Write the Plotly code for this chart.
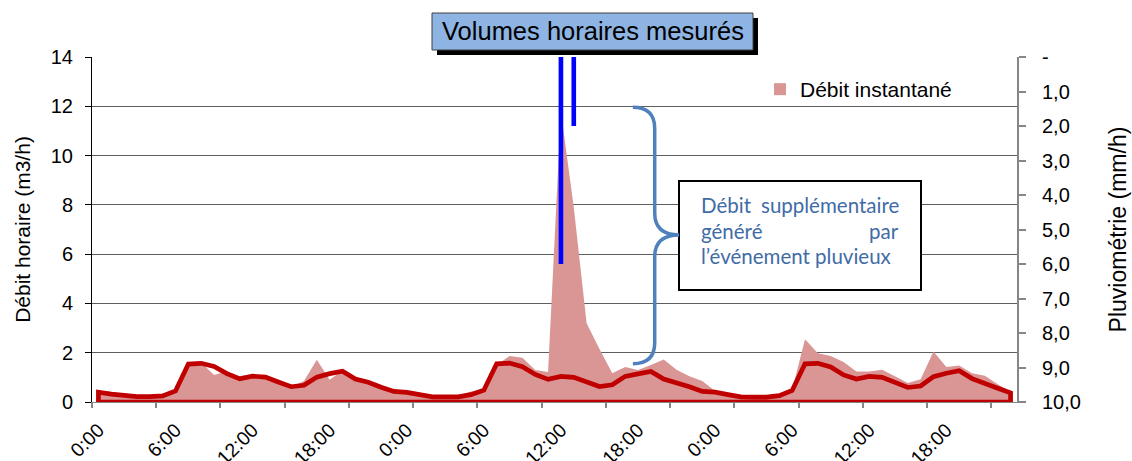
import plotly.graph_objects as go

# ---------------- data ----------------
hours = list(range(72))
tick_hours = [0, 6, 12, 18, 24, 30, 36, 42, 48, 54, 60, 66]
tick_labels = ["0:00", "6:00", "12:00", "18:00"] * 3
minor_tick_hours = [-0.5 + 5 * k for k in range(15)]

volumes_horaires = [
    0.40, 0.32, 0.25, 0.22, 0.22, 0.25, 0.45, 1.54, 1.57, 1.44, 1.15, 0.94,
    1.05, 1.01, 0.81, 0.62, 0.68, 1.01, 1.15, 1.25, 0.93, 0.80, 0.60, 0.43,
    0.39, 0.29, 0.21, 0.21, 0.21, 0.30, 0.48, 1.55, 1.58, 1.43, 1.12, 0.92,
    1.04, 1.00, 0.79, 0.63, 0.70, 1.04, 1.14, 1.24, 0.93, 0.79, 0.62, 0.43,
    0.40, 0.30, 0.21, 0.20, 0.20, 0.26, 0.47, 1.55, 1.57, 1.42, 1.10, 0.93,
    1.04, 1.00, 0.78, 0.59, 0.65, 1.03, 1.17, 1.27, 0.95, 0.78, 0.56, 0.37,
]

debit_instantane = [
    0.35, 0.28, 0.20, 0.18, 0.20, 0.25, 0.40, 1.45, 1.60, 1.10, 1.25, 1.05,
    1.13, 1.05, 0.85, 0.62, 0.85, 1.71, 0.90, 1.28, 1.00, 0.85, 0.68, 0.45,
    0.38, 0.30, 0.22, 0.20, 0.25, 0.43, 0.52, 1.50, 1.87, 1.80, 1.30, 1.22,
    11.80, 7.90, 3.20, 2.15, 1.17, 1.42, 1.30, 1.50, 1.72, 1.31, 1.05, 0.85,
    0.45, 0.32, 0.22, 0.20, 0.22, 0.32, 0.50, 2.55, 1.98, 1.87, 1.62, 1.24,
    1.24, 1.31, 1.05, 0.77, 0.92, 2.05, 1.42, 1.48, 1.17, 1.07, 0.72, 0.43,
]

pluie_heures = [36, 37]
pluie_mm = [6.0, 2.0]

left_ticks = [0, 2, 4, 6, 8, 10, 12, 14]
right_ticks = [0, 1, 2, 3, 4, 5, 6, 7, 8, 9, 10]
right_labels = ["-", "1,0", "2,0", "3,0", "4,0", "5,0", "6,0", "7,0", "8,0", "9,0", "10,0"]

# ---------------- style ----------------
FONT = "Liberation Sans, Arial, sans-serif"
PINK = "#D99694"
DARKRED = "#C00000"
BLUE = "#0000FF"
BRACE = "#4F81BD"
W, H = 1132, 461
PL, PR, PT, PB = 92, 1017, 57, 402


def px(x):
    return (x - PL) / (PR - PL)


def py(y):
    return (PB - y) / (PB - PT)


fig = go.Figure()

# area "Débit instantané"
fig.add_trace(go.Scatter(
    x=hours, y=debit_instantane, mode="none", fill="tozeroy",
    fillcolor=PINK, showlegend=False, hoverinfo="skip"))

# legend entry for the area
fig.add_trace(go.Bar(
    x=[None], y=[None], name="Débit instantané", marker_color=PINK,
    marker_line_width=0, showlegend=True))

# outlined area "Volumes horaires mesurés"
fig.add_trace(go.Scatter(
    x=[hours[0]] + hours + [hours[-1], hours[0]],
    y=[0] + volumes_horaires + [0, 0],
    mode="lines", line=dict(color=DARKRED, width=4.7),
    showlegend=False, hoverinfo="skip"))

# rain bars on secondary (reversed) axis
fig.add_trace(go.Bar(
    x=pluie_heures, y=pluie_mm, xaxis="x2", yaxis="y2", width=0.36,
    marker_color=BLUE, marker_line_width=0, showlegend=False))

fig.update_layout(
    width=W, height=H,
    margin=dict(l=PL, r=W - PR, t=PT, b=H - PB, pad=0, autoexpand=False),
    paper_bgcolor="white", plot_bgcolor="white",
    font=dict(family=FONT, size=20, color="black"),
    barmode="overlay",
    xaxis=dict(
        range=[-0.5, 71.5], tickmode="array", tickvals=tick_hours,
        ticktext=tick_labels, tickangle=-45, ticks="outside", ticklen=8,
        tickcolor="rgba(0,0,0,0)", showgrid=False, automargin=False,
        zeroline=False, showline=True, linecolor="#868686", linewidth=1,
        layer="below traces", tickfont=dict(size=19.5)),
    xaxis2=dict(
        overlaying="x", anchor="y2", range=[-0.5, 71.5], tickmode="array",
        tickvals=minor_tick_hours, ticks="outside", ticklen=5,
        tickcolor="#868686", tickwidth=2, showticklabels=False,
        showgrid=False, zeroline=False, showline=False, automargin=False),
    yaxis=dict(
        range=[0, 14], tickmode="array", tickvals=left_ticks,
        showgrid=True, gridcolor="#5E5E5E", gridwidth=1, zeroline=False,
        showline=True, linecolor="black", linewidth=1, ticks="outside",
        ticklen=6, tickcolor="black", tickfont=dict(size=20),
        automargin=False, ticklabelstandoff=8,
        title=dict(text="Débit horaire (m3/h)", font=dict(size=21),
                   standoff=14)),
    yaxis2=dict(
        overlaying="y", side="right", range=[10, 0], tickmode="array",
        tickvals=right_ticks, ticktext=right_labels, showgrid=False,
        zeroline=False, showline=True, linecolor="#868686", linewidth=2,
        ticks="outside", ticklen=7, tickcolor="#868686", tickwidth=2,
        tickfont=dict(size=20), automargin=False, ticklabelstandoff=12,
        title=dict(text="Pluviométrie (mm/h)", font=dict(size=23),
                   standoff=30)),
    legend=dict(
        x=px(760), y=py(69), xanchor="left", yanchor="top",
        bgcolor="rgba(0,0,0,0)", font=dict(size=21),
        itemwidth=30, tracegroupgap=0),
)

shapes = [
    # title box shadow and box
    dict(type="rect", xref="paper", yref="paper",
         x0=px(437), x1=px(758), y0=py(55), y1=py(18),
         fillcolor="black", line=dict(width=0), layer="above"),
    dict(type="rect", xref="paper", yref="paper",
         x0=px(432), x1=px(753), y0=py(50), y1=py(13),
         fillcolor="#8EB4E3", line=dict(color="#404040", width=1),
         layer="above"),
    # explanation box
    dict(type="rect", xref="paper", yref="paper",
         x0=px(679), x1=px(921), y0=py(290), y1=py(181),
         fillcolor="white", line=dict(color="black", width=2),
         layer="above"),
    # curly brace
    dict(type="path", xref="x", yref="y",
         path=("M 41.6,11.96 Q 43.3,11.96 43.3,11.1 L 43.3,7.67 "
               "Q 43.3,6.78 45.2,6.78 Q 43.3,6.78 43.3,5.89 "
               "L 43.3,2.4 Q 43.3,1.55 41.6,1.55"),
         line=dict(color=BRACE, width=3.5), layer="above"),
]

BOXFONT = dict(family="Lato, Carlito, Calibri, sans-serif", size=20.5,
               color="#3F6CA6")
annotations = [
    dict(text="Volumes horaires mesurés", xref="paper", yref="paper",
         x=px(592.5), y=py(31.5), xanchor="center", yanchor="middle",
         showarrow=False, font=dict(size=25.5, color="black", family=FONT)),
    dict(text="Débit", xref="paper", yref="paper", x=px(699), y=py(205),
         xanchor="left", yanchor="middle", showarrow=False, font=BOXFONT),
    dict(text="supplémentaire", xref="paper", yref="paper", x=px(901),
         y=py(205), xanchor="right", yanchor="middle", showarrow=False,
         font=BOXFONT),
    dict(text="généré", xref="paper", yref="paper", x=px(699), y=py(231),
         xanchor="left", yanchor="middle", showarrow=False, font=BOXFONT),
    dict(text="par", xref="paper", yref="paper", x=px(901), y=py(231),
         xanchor="right", yanchor="middle", showarrow=False, font=BOXFONT),
    dict(text="l’événement pluvieux", xref="paper", yref="paper",
         x=px(699), y=py(256), xanchor="left", yanchor="middle",
         showarrow=False, font=BOXFONT),
]

fig.update_layout(shapes=shapes, annotations=annotations)
fig.write_html(
    "out.html",
    config={"displayModeBar": False},
    post_script="document.body.style.margin='0';document.body.style.overflow='hidden';")
